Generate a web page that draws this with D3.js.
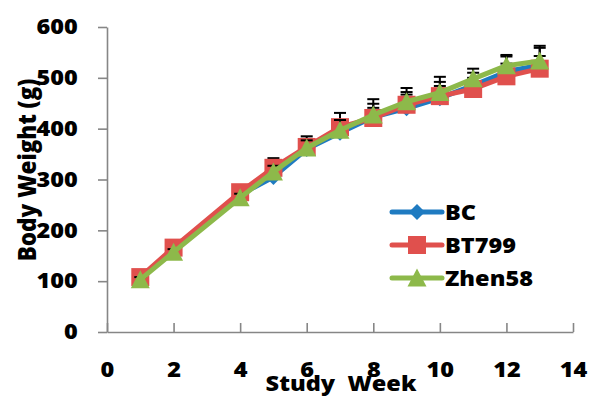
<!DOCTYPE html>
<html><head><meta charset="utf-8">
<script src="https://cdn.jsdelivr.net/npm/d3@7/dist/d3.min.js"></script>
<style>
body{margin:0;background:#fff;}
svg text{font-family:"Open Sans",sans-serif;font-weight:800;fill:#000;}
</style></head><body>
<svg id="c" width="591" height="397"></svg>
<script>
const weeks = [1,2,4,5,6,7,8,9,10,11,12,13];
const bcValues     = [105,162,270,305,360,392,423,440,460,485,512,525];
const bt799Values  = [108,166,275,323,364,403,421,447,464,478,503,518];
const zhen58Values = [103,157,264,315,362,397,427,453,471,498,524,533];
const bcErr     = [5,6,8,15,20,25,35,40,42,25,30,38];
const bt799Err  = [5,6,8,19,21,28,20,20,20,22,25,25];
const zhen58Err = [5,6,8,12,15,20,22,19,21,20,21,26];
const seriesNames = ["BC","BT799","Zhen58"];
const xTicks = [0,2,4,6,8,10,12,14];
const yTicks = [0,100,200,300,400,500,600];

const series = [
  {name:seriesNames[0], vals:bcValues, err:bcErr, color:"#1F7BC1", marker:"diamond"},
  {name:seriesNames[1], vals:bt799Values, err:bt799Err, color:"#E0504D", marker:"square"},
  {name:seriesNames[2], vals:zhen58Values, err:zhen58Err, color:"#8DB94A", marker:"triangle"}
];

const svg = d3.select("#c");
const x = d3.scaleLinear().domain([0,14]).range([107,573]);
const y = d3.scaleLinear().domain([0,600]).range([332,27]);
const SX = 1.12;
const axisColor = "#868686";
const FW = 800;

// Y axis
const gy = svg.append("g").attr("transform","translate(107,0)")
  .call(d3.axisLeft(y).tickValues(yTicks).tickSize(9).tickPadding(17).tickSizeOuter(0));
gy.select(".domain").attr("stroke",axisColor).attr("stroke-width",1.6);
gy.selectAll(".tick line").attr("stroke",axisColor).attr("stroke-width",1.6);
gy.selectAll(".tick text").attr("font-size",21).attr("font-family","Open Sans").attr("font-weight",FW)
  .attr("fill","#000").attr("transform",`scale(${SX},1)`);

// X axis
const gx = svg.append("g").attr("transform","translate(0,332)")
  .call(d3.axisBottom(x).tickValues(xTicks).tickSize(-9).tickPadding(30).tickSizeOuter(0));
gx.select(".domain").attr("stroke",axisColor).attr("stroke-width",1.6);
gx.selectAll(".tick line").attr("stroke",axisColor).attr("stroke-width",1.6);
gx.selectAll(".tick text").attr("font-size",21).attr("font-family","Open Sans").attr("font-weight",FW)
  .attr("fill","#000").attr("transform",`scale(${SX},1)`);

// Axis titles
svg.append("text").attr("transform",`translate(36,170) rotate(-90) scale(1,${SX})`)
  .attr("text-anchor","middle").attr("font-size",22.5).text("Body Weight (g)");
svg.append("text").attr("transform",`translate(341,391) scale(${SX},1)`)
  .attr("text-anchor","middle").attr("font-size",21).attr("xml:space","preserve").text("Study  Week");

function markerPath(type){
  if(type==="square") return "M-9,-9H9V9H-9Z";
  if(type==="triangle") return "M0,-9.5L9.5,8.5L-9.5,8.5Z";
  return "M0,-8L8,0L0,8L-8,0Z";
}

const line = d3.line().x(d=>x(d.w)).y(d=>y(d.v));
series.forEach(s=>{
  const pts = weeks.map((w,i)=>({w, v:s.vals[i], e:s.err[i]}));
  const g = svg.append("g");
  const eb = g.append("g").attr("stroke","#000").attr("stroke-width",2);
  pts.forEach(p=>{
    eb.append("line").attr("x1",x(p.w)).attr("x2",x(p.w)).attr("y1",y(p.v)).attr("y2",y(p.v+p.e));
    eb.append("line").attr("x1",x(p.w)-6).attr("x2",x(p.w)+6).attr("y1",y(p.v+p.e)).attr("y2",y(p.v+p.e));
  });
  g.append("path").datum(pts).attr("d",line).attr("fill","none").attr("stroke",s.color)
    .attr("stroke-width",5).attr("stroke-linejoin","round");
  g.selectAll("path.m").data(pts).enter().append("path").attr("class","m")
    .attr("transform",d=>`translate(${x(d.w)},${y(d.v)})`).attr("d",markerPath(s.marker)).attr("fill",s.color);
});

// Legend
const legY = [212,245,278];
series.forEach((s,i)=>{
  const g = svg.append("g").attr("transform",`translate(0,${legY[i]})`);
  g.append("line").attr("x1",392).attr("x2",442).attr("y1",0).attr("y2",0)
    .attr("stroke",s.color).attr("stroke-width",5).attr("stroke-linecap","round");
  g.append("path").attr("transform","translate(417,0)").attr("d",markerPath(s.marker)).attr("fill",s.color);
  g.append("text").attr("transform",`translate(445,0) scale(${SX},1)`).attr("dy","0.36em")
    .attr("font-size",21).text(s.name);
});
</script></body></html>
